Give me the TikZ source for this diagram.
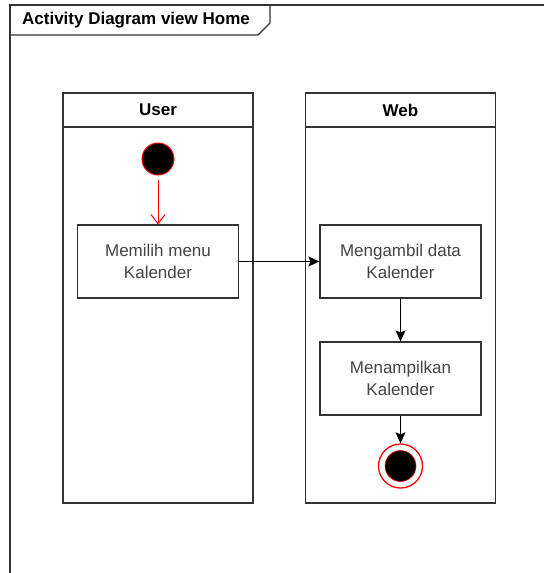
\documentclass[tikz,border=0pt]{standalone}
\usepackage{fontspec}
\setmainfont{Liberation Sans}
\usetikzlibrary{arrows.meta}
\definecolor{txt}{HTML}{444444}
\definecolor{ln}{HTML}{333333}
\begin{document}
\begin{tikzpicture}[x=1pt,y=-1pt,
  actbox/.style={draw=ln, line width=1.2pt, fill=white, minimum width=161pt, minimum height=73pt, inner sep=0pt, align=center, text=txt, font=\fontsize{17}{22.5}\selectfont},
  lanehead/.style={draw=ln, line width=1.2pt, minimum width=190pt, minimum height=34pt, inner sep=0pt, font=\fontsize{17}{20}\selectfont\bfseries},
  lanebody/.style={draw=ln, line width=1.2pt, minimum width=190pt, minimum height=376pt, inner sep=0pt},
  flow/.style={draw=black, line width=1.2pt, -{Stealth[length=11pt,width=10pt,inset=2pt]}},
  startflow/.style={draw=red, line width=1pt, -{Straight Barb[length=9pt,width=14pt]}}
]
\useasboundingbox (0,0) rectangle (544,573);
% frame
\draw[ln, line width=1.2pt] (544,5) -- (10,5) -- (10,573);
\draw[ln, line width=1.2pt] (10,5) -- (270,5) -- (270,23) -- (258,35) -- (10,35) -- cycle;
\node[font=\fontsize{17}{20}\selectfont\bfseries, anchor=center] (title) at (136,20) {Activity Diagram view Home};
% lanes
\node[lanehead] (userhead) at (158,110) {User};
\node[lanebody] (userlane) at (158,315) {};
\node[lanehead] (webhead) at (400.5,110) {Web};
\node[lanebody] (weblane) at (400.5,315) {};
% nodes
\node[circle, draw=red, fill=black, line width=1pt, minimum size=32pt, inner sep=0pt] (start) at (158,159) {};
\node[actbox] (b1) at (158,261.5) {Memilih menu\\Kalender};
\node[actbox] (b2) at (400.5,261.5) {Mengambil data\\Kalender};
\node[actbox] (b3) at (400.5,378.5) {Menampilkan\\Kalender};
\node[circle, draw=red, fill=white, line width=1.3pt, minimum size=44pt, inner sep=0pt] (end) at (400.5,466) {};
\node[circle, draw=red, fill=black, line width=0.6pt, minimum size=31pt, inner sep=0pt] (endin) at (end.center) {};
% flows
\draw[startflow, shorten <=4pt] (start) -- (b1);
\draw[flow] (b1) -- (b2);
\draw[flow] (b2) -- (b3);
\draw[flow] (b3) -- (end);
\end{tikzpicture}
\end{document}
